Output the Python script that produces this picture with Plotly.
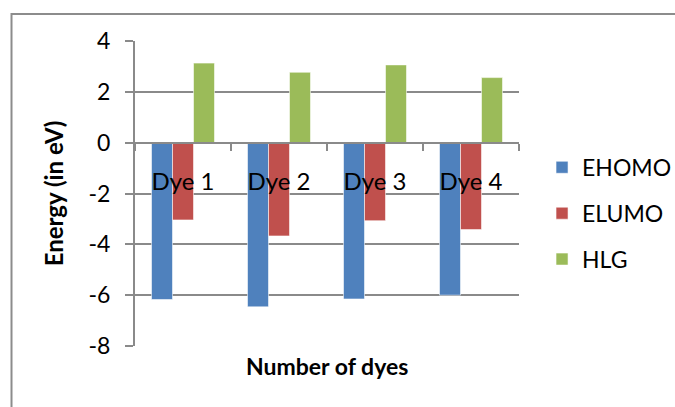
import plotly.graph_objects as go

# Frontier orbital energies of the four dyes (eV)
dyes = ["Dye 1", "Dye 2", "Dye 3", "Dye 4"]
ehomo = [-6.17, -6.46, -6.15, -6.00]
elumo = [-3.04, -3.67, -3.07, -3.42]
hlg = [3.13, 2.77, 3.06, 2.56]

series_names = ["EHOMO", "ELUMO", "HLG"]
series_colors = ["#4F81BD", "#C0504D", "#9BBB59"]
y_ticks = [4, 2, 0, -2, -4, -6, -8]
y_tick_text = ["4", "2", "0", "-2", "-4", "-6", "-8"]

FONT = "Lato"
GRID = "#8A8A8A"

fig = go.Figure()
for name, vals, col in zip(series_names, [ehomo, elumo, hlg], series_colors):
    fig.add_trace(go.Bar(
        x=dyes, y=vals, name=name, legendgroup=name,
        marker=dict(color=col, line=dict(color="rgba(255,255,255,0.55)", width=1)),
    ))

fig.update_layout(
    width=675, height=407,
    margin=dict(l=135, r=156, t=41, b=61, autoexpand=False),
    paper_bgcolor="white", plot_bgcolor="white",
    barmode="group", bargap=0.344, bargroupgap=0,
    font=dict(family=FONT, color="black"),
    showlegend=True,
    legend=dict(
        x=1.06, xanchor="left", y=0.435, yanchor="middle",
        font=dict(family=FONT, size=23),
        traceorder="grouped", tracegroupgap=13,
        itemwidth=30, bgcolor="rgba(0,0,0,0)",
    ),
    xaxis=dict(
        anchor="free", position=8 / 12,
        showline=True, linecolor=GRID, linewidth=2,
        ticks="outside", tickson="boundaries", ticklen=7, tickcolor=GRID, tickwidth=2,
        ticklabelstandoff=18,
        tickfont=dict(family=FONT, size=24),
        showgrid=False, zeroline=False,
    ),
    yaxis=dict(
        range=[-8, 4], tickvals=y_ticks, ticktext=y_tick_text,
        showline=True, linecolor=GRID, linewidth=2,
        ticks="outside", ticklen=8, tickcolor=GRID, tickwidth=2,
        ticklabelstandoff=10,
        showgrid=True, gridcolor=GRID, gridwidth=2,
        zeroline=True, zerolinecolor=GRID, zerolinewidth=2,
        tickfont=dict(family=FONT, size=23),
        title=dict(text="<b>Energy (in eV)</b>", font=dict(family=FONT, size=24), standoff=18),
        automargin=False,
    ),
)

# x-axis title below the plot area
fig.add_annotation(
    text="<b>Number of dyes</b>", xref="paper", yref="paper",
    x=0.5, y=-0.012, xanchor="center", yanchor="top", showarrow=False,
    font=dict(family=FONT, size=23),
)

# chart-area border
fig.add_shape(
    type="rect", xref="paper", yref="paper",
    x0=-0.3216, x1=1.42, y0=-0.25, y1=1.0885,
    line=dict(color="#8C8C8C", width=2), layer="below",
)

fig.write_html("out.html")
